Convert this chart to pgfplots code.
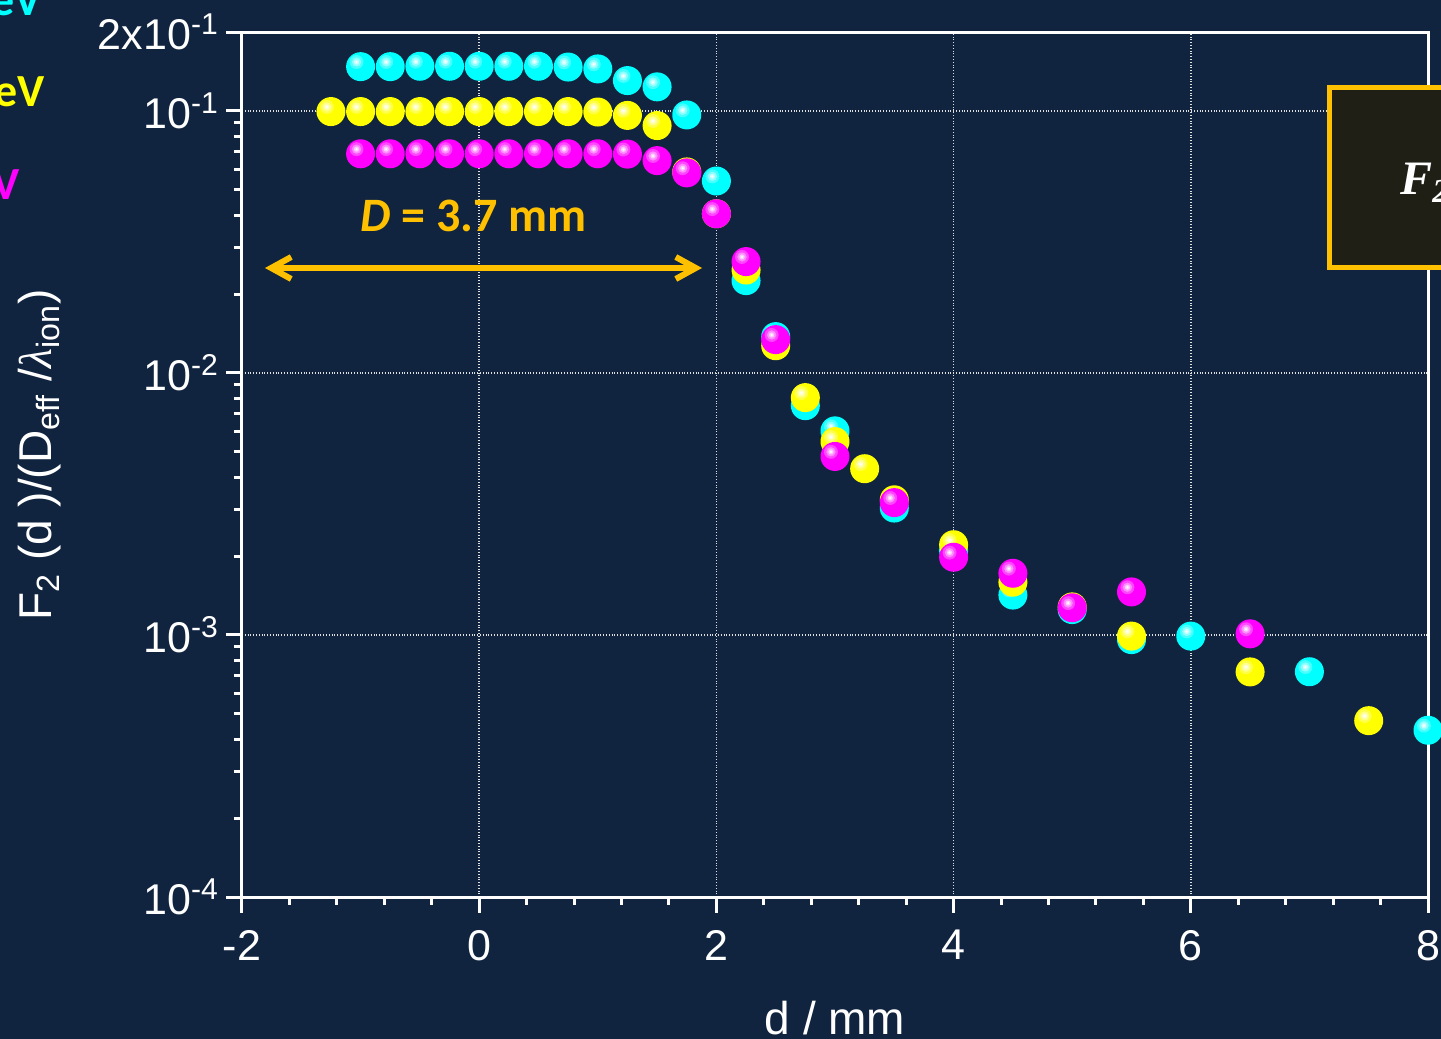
\documentclass[border=0pt]{standalone}
\usepackage{pgfplots}
\pgfplotsset{compat=1.18}
\usepackage{fontspec}
\setmainfont{Liberation Sans}
\newfontfamily\calib{Carlito}
\newfontfamily\serifbi{Liberation Serif}
\usetikzlibrary{arrows.meta}
\definecolor{bgc}{HTML}{11243F}
\definecolor{cy}{HTML}{00FFFF}
\definecolor{ye}{HTML}{FFFF00}
\definecolor{ma}{HTML}{FF00FF}
\definecolor{orA}{HTML}{FFC000}
\definecolor{boxc}{HTML}{201F16}
\colorlet{cy1}{cy!72!white}\colorlet{cy2}{cy!45!white}\colorlet{cy3}{cy!20!white}
\colorlet{ye1}{ye!72!white}\colorlet{ye2}{ye!45!white}\colorlet{ye3}{ye!20!white}
\colorlet{ma1}{ma!72!white}\colorlet{ma2}{ma!45!white}\colorlet{ma3}{ma!20!white}
\newcommand\defsphere[2]{%
  \pgfdeclareplotmark{#1}{%
    \pgfsetfillcolor{#2}%
    \pgfpathcircle{\pgfpointorigin}{\pgfplotmarksize}\pgfusepathqfill
    \pgfsetfillcolor{#21}%
    \pgfpathcircle{\pgfpoint{-0.28\pgfplotmarksize}{0.32\pgfplotmarksize}}{0.48\pgfplotmarksize}\pgfusepathqfill
    \pgfsetfillcolor{#22}%
    \pgfpathcircle{\pgfpoint{-0.28\pgfplotmarksize}{0.32\pgfplotmarksize}}{0.32\pgfplotmarksize}\pgfusepathqfill
    \pgfsetfillcolor{#23}%
    \pgfpathcircle{\pgfpoint{-0.28\pgfplotmarksize}{0.32\pgfplotmarksize}}{0.18\pgfplotmarksize}\pgfusepathqfill
    \pgfsetfillcolor{white}%
    \pgfpathcircle{\pgfpoint{-0.28\pgfplotmarksize}{0.32\pgfplotmarksize}}{0.08\pgfplotmarksize}\pgfusepathqfill
  }}
\defsphere{sphcy}{cy}
\defsphere{sphye}{ye}
\defsphere{sphma}{ma}
\begin{document}
\begin{tikzpicture}
\fill[bgc] (-121pt,-71pt) rectangle (599.5pt,448.5pt);
\begin{axis}[
  at={(0,0)}, anchor=south west,
  scale only axis, width=593pt, height=432.5pt,
  xmin=-2, xmax=8, ymin=1e-4, ymax=0.2, ymode=log,
  axis line style={white, line width=1.5pt},
  xtick={-2,0,2,4,6,8}, xticklabels={-2,0,2,4,6,8},
  minor x tick num=4,
  ytick={1e-4,1e-3,1e-2,1e-1,0.2},
  yticklabels={10\textsuperscript{-4},10\textsuperscript{-3},10\textsuperscript{-2},10\textsuperscript{-1},2x10\textsuperscript{-1}},
  minor ytick={2e-4,3e-4,4e-4,5e-4,6e-4,7e-4,8e-4,9e-4,2e-3,3e-3,4e-3,5e-3,6e-3,7e-3,8e-3,9e-3,2e-2,3e-2,4e-2,5e-2,6e-2,7e-2,8e-2,9e-2},
  tick align=outside, xtick pos=left, ytick pos=left,
  major tick length=8pt, minor tick length=4pt,
  every tick/.style={white, line width=1.5pt},
  grid=major, major grid style={densely dotted, white!75!gray, line width=0.7pt},
  ticklabel style={white, font=\fontsize{21.5}{26}\selectfont},
  xticklabel style={yshift=-5pt},
  xlabel={d / mm},
  ylabel={F\textsubscript{2} (d )/(D\textsubscript{eff} /{\serifbi\itshape λ}\textsubscript{ion})},
  label style={white, font=\fontsize{23}{27}\selectfont},
  xlabel style={at={(axis description cs:0.5,-0.1399)}, anchor=center},
  ylabel style={at={(axis description cs:-0.1703,0.511)}, anchor=center},
  mark size=7.25pt,
]
\addplot[only marks, mark=sphcy] coordinates {
(-1,0.1475) (-0.75,0.1475) (-0.5,0.148) (-0.25,0.148) (0,0.148) (0.25,0.148) (0.5,0.148) (0.75,0.147) (1.0,0.1446)
(1.25,0.1305) (1.5,0.1235) (1.75,0.0965) (2.0,0.054) (2.25,0.0225) (2.5,0.01376) (2.75,0.0075) (3.0,0.00601)
(3.5,0.00305) (4.0,0.0021) (4.5,0.00142) (5.0,0.00125) (5.5,0.00096) (6.0,0.00099) (7.0,0.000724) (8.0,0.000433)
};
\addplot[only marks, mark=sphye] coordinates {
(-1.25,0.0994) (-1,0.0994) (-0.75,0.0994) (-0.5,0.0994) (-0.25,0.0994) (0,0.0994) (0.25,0.0994) (0.5,0.0994) (0.75,0.0994) (1.0,0.0990)
(1.25,0.0961) (1.5,0.0879) (1.75,0.0585) (2.0,0.0405) (2.25,0.0247) (2.5,0.0127) (2.75,0.00805) (3.0,0.00547)
(3.25,0.00431) (3.5,0.00328) (4.0,0.00221) (4.5,0.00159) (5.0,0.00128) (5.5,0.00099) (6.5,0.000723) (7.5,0.000471)
};
\addplot[only marks, mark=sphma] coordinates {
(-1,0.0686) (-0.75,0.0686) (-0.5,0.0686) (-0.25,0.0686) (0,0.0686) (0.25,0.0686) (0.5,0.0686) (0.75,0.0686) (1.0,0.0686)
(1.25,0.0684) (1.5,0.0646) (1.75,0.058) (2.0,0.0405) (2.25,0.0266) (2.5,0.0134) (3.0,0.0048)
(3.5,0.0032) (4.0,0.00198) (4.5,0.00172) (5.0,0.00127) (5.5,0.00146) (6.5,0.00101)
};
\end{axis}
% annotations
\node[anchor=base west, text=orA, font=\calib\bfseries\fontsize{24}{28}\selectfont, inner sep=0pt] at (59pt,332.5pt) {\textit{D} = 3.7 mm};
\draw[orA, line width=3pt, {Straight Barb[length=10pt,width=11pt]}-{Straight Barb[length=10pt,width=11pt]}] (11.5pt,314.5pt) -- (230pt,314.5pt);
\draw[orA, line width=2.5pt, fill=boxc] (543.5pt,404.5pt) rectangle (750pt,314.5pt);
\node[anchor=base west, text=white, inner sep=0pt, font=\serifbi\bfseries\itshape\fontsize{24}{28}\selectfont] at (579pt,351pt) {F\textsubscript{2}(d) = };
% legend fragments
\node[anchor=base east, text=cy, inner sep=0pt, font=\calib\bfseries\fontsize{23}{27}\selectfont] at (-100pt,440.5pt) {E = 100 eV};
\node[anchor=base east, text=ye, inner sep=0pt, font=\calib\bfseries\fontsize{23}{27}\selectfont] at (-98.5pt,395pt) {E = 50 eV};
\node[anchor=base east, text=ma, inner sep=0pt, font=\calib\bfseries\fontsize{23}{27}\selectfont] at (-111pt,348.5pt) {E = 20 eV};
\pgfresetboundingbox
\useasboundingbox (-121pt,-71pt) rectangle (599.5pt,448.5pt);
\end{tikzpicture}
\end{document}
